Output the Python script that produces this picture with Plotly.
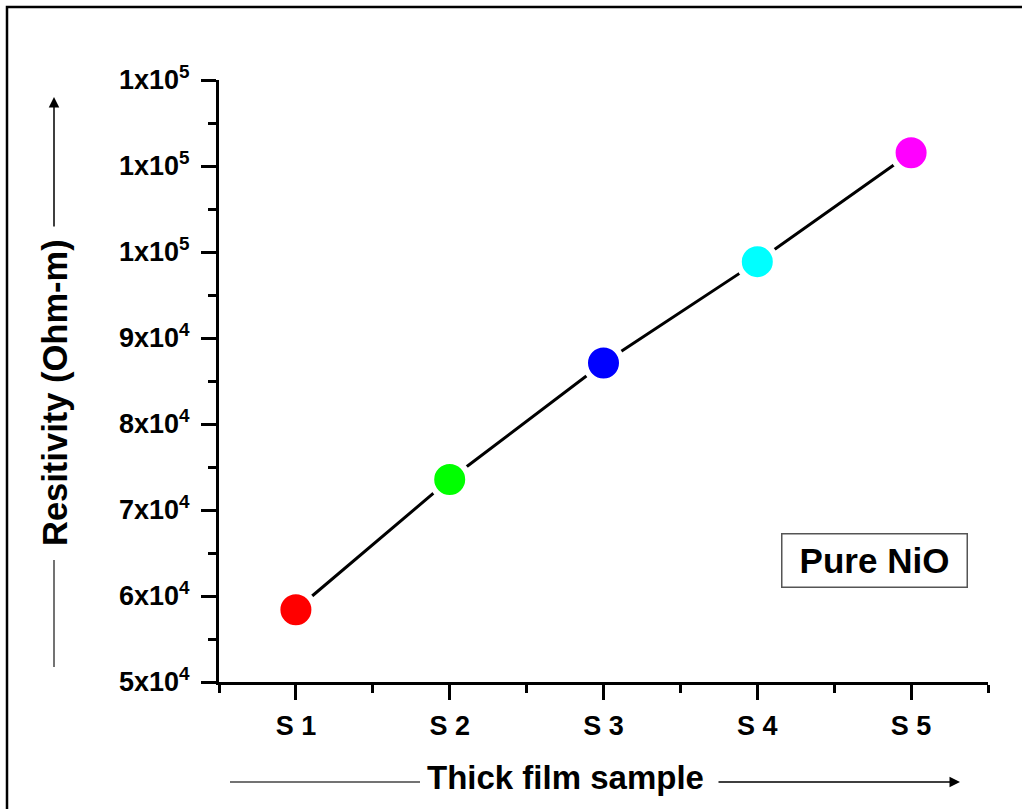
import plotly.graph_objects as go

samples = [1, 2, 3, 4, 5]
sample_labels = ["S 1", "S 2", "S 3", "S 4", "S 5"]
resistivity = [58400, 73550, 87100, 98880, 111550]
marker_colors = ["#ff0000", "#00ff00", "#0000ff", "#00ffff", "#ff00ff"]
y_tickvals = [50000, 60000, 70000, 80000, 90000, 100000, 110000, 120000]
y_ticktext = ["5x10<sup>4</sup>", "6x10<sup>4</sup>", "7x10<sup>4</sup>", "8x10<sup>4</sup>",
              "9x10<sup>4</sup>", "1x10<sup>5</sup>", "1x10<sup>5</sup>", "1x10<sup>5</sup>"]

FONT = "Liberation Sans, Arial, sans-serif"

fig = go.Figure()
fig.add_trace(go.Scatter(
    x=samples, y=resistivity, mode="lines+markers",
    line=dict(color="black", width=3),
    marker=dict(size=37, color=marker_colors, line=dict(color="white", width=6)),
    showlegend=False, cliponaxis=False,
))

L, R, T, B = 219, 34, 80, 127
W, H = 1022, 809
pw, ph = W - L - R, H - T - B

def px(x):
    return (x - L) / pw

def py(y):
    return (H - B - y) / ph

fig.update_layout(
    width=W, height=H,
    margin=dict(l=L, r=R, t=T, b=B),
    paper_bgcolor="white", plot_bgcolor="white",
    font=dict(family=FONT, color="black"),
    xaxis=dict(
        range=[0.5, 5.5], tickmode="array", tickvals=samples, ticktext=sample_labels,
        showline=True, linewidth=3, linecolor="black", showgrid=False, zeroline=False,
        ticks="outside", ticklen=15, tickwidth=3, tickcolor="black",
        tickfont=dict(size=27, family=FONT, weight="bold", color="black"),
        ticklabelstandoff=3,
        minor=dict(tick0=0.5, dtick=1, ticks="outside", ticklen=8, tickwidth=3, tickcolor="black", showgrid=False),
    ),
    yaxis=dict(
        range=[50000, 120000], tickmode="array", tickvals=y_tickvals, ticktext=y_ticktext,
        showline=True, linewidth=3, linecolor="black", showgrid=False, zeroline=False,
        ticks="outside", ticklen=15, tickwidth=3, tickcolor="black",
        tickfont=dict(size=27, family=FONT, weight="bold", color="black"),
        ticklabelstandoff=6,
        minor=dict(tick0=55000, dtick=10000, ticks="outside", ticklen=8, tickwidth=3, tickcolor="black", showgrid=False),
    ),
)

# outer frame
fig.add_shape(type="rect", xref="paper", yref="paper",
              x0=px(7), x1=px(1030), y0=py(815), y1=py(7),
              line=dict(color="black", width=2.5), fillcolor="rgba(0,0,0,0)", layer="below")

# y title
fig.add_annotation(xref="paper", yref="paper", x=px(55), y=py(393), text="Resitivity (Ohm-m)",
                   textangle=-90, showarrow=False, xanchor="center", yanchor="middle",
                   font=dict(size=34.5, family=FONT, weight="bold", color="black"))
fig.add_shape(type="line", xref="paper", yref="paper", x0=px(54), x1=px(54), y0=py(560), y1=py(667),
              line=dict(color="#444", width=1.5))
fig.add_annotation(xref="paper", yref="paper", x=px(54), y=py(97), ax=0, ay=131, text="",
                   showarrow=True, arrowhead=2, arrowsize=1.4, arrowwidth=1.5, arrowcolor="black")

# x title
fig.add_annotation(xref="paper", yref="paper", x=px(565), y=py(777), text="Thick film sample",
                   showarrow=False, xanchor="center", yanchor="middle",
                   font=dict(size=33, family=FONT, weight="bold", color="black"))
fig.add_shape(type="line", xref="paper", yref="paper", x0=px(230), x1=px(420), y0=py(782), y1=py(782),
              line=dict(color="#444", width=1.5))
fig.add_annotation(xref="paper", yref="paper", x=px(960), y=py(782), ax=-243, ay=0, text="",
                   showarrow=True, arrowhead=2, arrowsize=1.4, arrowwidth=1.5, arrowcolor="black")

# label box
fig.add_annotation(xref="paper", yref="paper", x=px(874), y=py(560), text="Pure NiO",
                   showarrow=False, xanchor="center", yanchor="middle",
                   width=180, height=48, borderpad=2,
                   bordercolor="#555", borderwidth=1.5, bgcolor="white",
                   font=dict(size=35, family=FONT, weight="bold", color="black"))

fig.write_html("out.html")
